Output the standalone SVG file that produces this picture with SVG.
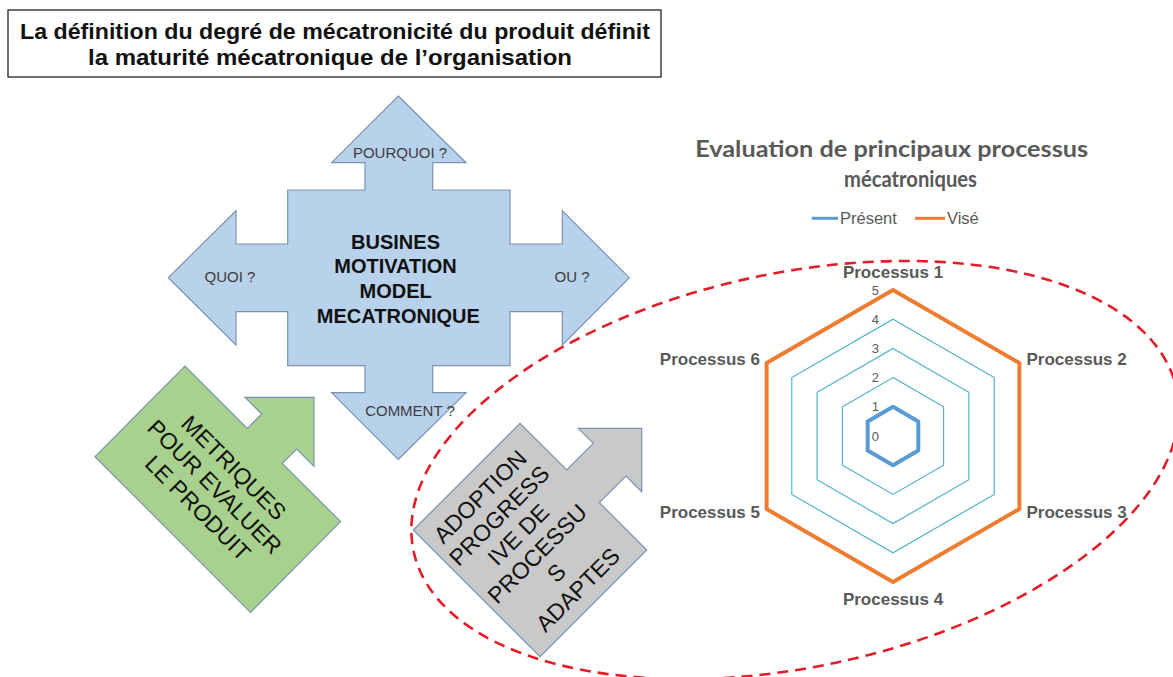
<svg xmlns="http://www.w3.org/2000/svg" width="1173" height="677" viewBox="0 0 1173 677">
<style>
.sans{font-family:"Liberation Sans",Arial,sans-serif}
.shape{stroke:#7a93b2;stroke-width:1.2;stroke-linejoin:miter}
.lbl{font-family:"Liberation Sans",Arial,sans-serif;font-size:15px;fill:#3c3c3c;text-anchor:middle}
.big{font-family:"Liberation Sans",Arial,sans-serif;font-size:23px;fill:#111;text-anchor:middle}
.grid{fill:none;stroke:#47aecb;stroke-width:1.1}
.proc{font-family:"Liberation Sans",Arial,sans-serif;font-size:17px;font-weight:bold;fill:#595959}
.tick{font-family:"Liberation Sans",Arial,sans-serif;font-size:13px;fill:#595959;text-anchor:end}
</style>
<rect width="1173" height="677" fill="#ffffff"/>

<g id="title-box">
<rect x="8" y="10" width="653" height="67" fill="#ffffff" stroke="#222" stroke-width="1.3"/>
<text class="sans" x="20" y="38.5" font-size="22.5" font-weight="bold" fill="#111" textLength="630" lengthAdjust="spacingAndGlyphs">La définition du degré de mécatronicité du produit définit</text>
<text class="sans" x="88" y="65" font-size="22.5" font-weight="bold" fill="#111" textLength="484" lengthAdjust="spacingAndGlyphs">la maturité mécatronique de l’organisation</text>
</g>

<g id="bmm-cross">
<path class="shape" fill="#b9d2ec" d="M398.3,96 L466,162.7 L432.7,162.7 L432.7,190 L510,190 L510,244 L562.3,244 L562.3,210.7 L629.3,277.7 L562.3,345 L562.3,311.7 L510,311.7 L510,365.7 L432.7,365.7 L432.7,392.7 L466,392.7 L398.3,459.3 L331.7,392.7 L365,392.7 L365,365.7 L287.7,365.7 L287.7,311.7 L236,311.7 L236,345 L168.3,277.7 L236,210.7 L236,244 L287.7,244 L287.7,190 L365,190 L365,162.7 L331.7,162.7 Z"/>
<text class="lbl" x="400" y="158">POURQUOI ?</text>
<text class="lbl" x="230" y="282">QUOI ?</text>
<text class="lbl" x="572" y="282">OU ?</text>
<text class="lbl" x="410" y="415.5">COMMENT ?</text>
<text class="sans" x="398.3" font-size="20" font-weight="bold" fill="#111" text-anchor="middle">
<tspan x="398.3" y="249">BUSINES</tspan>
<tspan x="398.3" y="273">MOTIVATION</tspan>
<tspan x="398.3" y="297.5">MODEL</tspan>
<tspan x="398.3" y="322.5">MECATRONIQUE</tspan>
</text>
</g>

<g id="metriques">
<path class="shape" fill="#a9d18e" d="M95,456.7 L185,366 L247.3,428.4 L261.7,414 L245,397.3 L314,397.3 L314,466.3 L296.7,449 L282.3,463.3 L340.6,521.6 L250.6,612.3 Z"/>
<text class="big" transform="translate(217,489) rotate(45)">
<tspan x="0" y="-19">METRIQUES</tspan>
<tspan x="0" y="8">POUR EVALUER</tspan>
<tspan x="0" y="35">LE PRODUIT</tspan>
</text>
</g>

<g id="adoption">
<path class="shape" fill="#c9c9c9" d="M413.3,530 L520,423.3 L566.7,470 L593.3,443.3 L578.3,428.3 L641.7,428.3 L641.7,491.7 L626,476 L599.4,502.6 L646.7,550 L540,656.7 Z"/>
<text class="big" transform="translate(530,542) rotate(-45)">
<tspan x="0" y="-59.5">ADOPTION</tspan>
<tspan x="0" y="-32.5">PROGRESS</tspan>
<tspan x="0" y="-5.5">IVE DE</tspan>
<tspan x="0" y="21.5">PROCESSU</tspan>
<tspan x="0" y="48.5">S</tspan>
<tspan x="0" y="75.5">ADAPTES</tspan>
</text>
</g>

<g id="radar-chart">
<text x="891.7" y="157.3" font-family="Lato,'Open Sans',sans-serif" font-size="22" font-weight="bold" fill="#595959" text-anchor="middle" textLength="393" lengthAdjust="spacingAndGlyphs">Evaluation de principaux processus</text>
<text x="910.5" y="186.7" font-family="Lato,'Open Sans',sans-serif" font-size="22" font-weight="bold" fill="#595959" text-anchor="middle" textLength="133" lengthAdjust="spacingAndGlyphs">mécatroniques</text>
<g id="legend">
<line x1="811.7" y1="218.3" x2="838" y2="218.3" stroke="#5b9bd5" stroke-width="3"/>
<text class="sans" x="840" y="223.8" font-size="16.5" fill="#595959">Présent</text>
<line x1="915" y1="218.3" x2="945" y2="218.3" stroke="#ed7d31" stroke-width="3"/>
<text class="sans" x="947" y="223.8" font-size="16.5" fill="#595959">Visé</text>
</g>
<g id="grid">
<polygon class="grid" points="893,377.6 943.6,406.8 943.6,465.2 893,494.4 842.4,465.2 842.4,406.8"/>
<polygon class="grid" points="893,348.4 968.9,392.2 968.9,479.8 893,523.6 817.1,479.8 817.1,392.2"/>
<polygon class="grid" points="893,319.2 994.2,377.6 994.2,494.4 893,552.8 791.8,494.4 791.8,377.6"/>
</g>
<g id="ticks">
<text class="tick" x="879" y="440.5">0</text>
<text class="tick" x="879" y="411.3">1</text>
<text class="tick" x="879" y="382.1">2</text>
<text class="tick" x="879" y="352.9">3</text>
<text class="tick" x="879" y="323.7">4</text>
<text class="tick" x="879" y="294.5">5</text>
</g>
<polygon points="893,406.8 918.3,421.4 918.3,450.6 893,465.2 867.7,450.6 867.7,421.4" fill="none" stroke="#5b9bd5" stroke-width="4" stroke-linejoin="round"/>
<polygon points="893,290 1019.4,363 1019.4,509 893,582 766.6,509 766.6,363" fill="none" stroke="#ed7d31" stroke-width="4" stroke-linejoin="round"/>
<text class="proc" x="893" y="278" text-anchor="middle">Processus 1</text>
<text class="proc" x="1026.5" y="365">Processus 2</text>
<text class="proc" x="1026.5" y="518">Processus 3</text>
<text class="proc" x="893" y="605" text-anchor="middle">Processus 4</text>
<text class="proc" x="760" y="518" text-anchor="end">Processus 5</text>
<text class="proc" x="760" y="365" text-anchor="end">Processus 6</text>
</g>

<g id="connectors">
<ellipse cx="795" cy="470" rx="390" ry="197" transform="rotate(-12 795 470)" fill="none" stroke="#e21d27" stroke-width="2.6" stroke-dasharray="11 7"/>
</g>
</svg>
